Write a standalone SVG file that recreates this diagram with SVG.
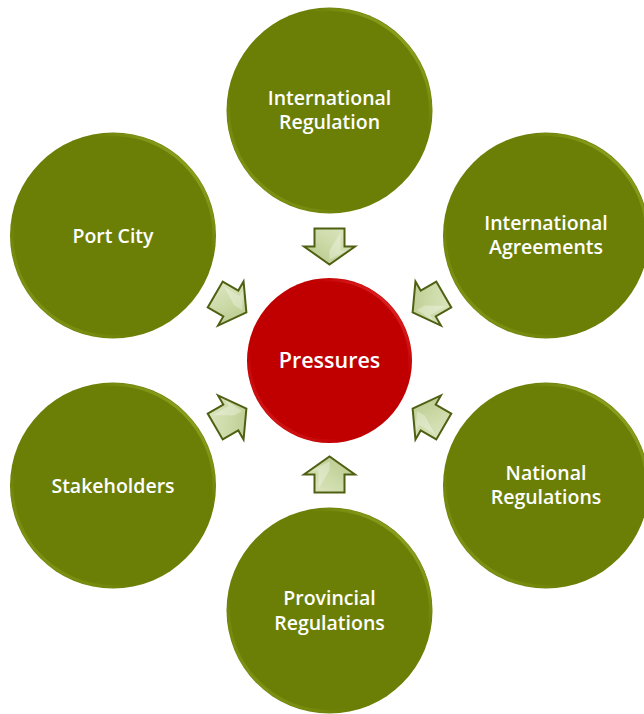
<svg xmlns="http://www.w3.org/2000/svg" xmlns:xlink="http://www.w3.org/1999/xlink" width="644" height="714" viewBox="0 0 644 714">
  <style>
    .olive { fill: #6b7f06; }
    .red { fill: #c00000; }
    .rim { fill: none; stroke-width: 3; }
    .label { font-family: "Open Sans", "Liberation Sans", sans-serif; font-weight: 600; font-size: 19.5px; fill: #ffffff; text-anchor: middle; }
    .big { font-size: 21.5px; }
    .arrow { fill: url(#arrowFill); stroke: #4f6012; stroke-width: 2; stroke-linejoin: miter; }
    .facet { fill: #ffffff; opacity: 0.3; }
  </style>
  <defs>
    <linearGradient id="rimOlive" x1="1" y1="0" x2="0" y2="1">
      <stop offset="0" stop-color="#b5cc3c" stop-opacity="0.75"/>
      <stop offset="0.3" stop-color="#b5cc3c" stop-opacity="0"/>
      <stop offset="0.7" stop-color="#b5cc3c" stop-opacity="0"/>
      <stop offset="1" stop-color="#b5cc3c" stop-opacity="0.45"/>
    </linearGradient>
    <linearGradient id="rimRed" x1="1" y1="0" x2="0" y2="1">
      <stop offset="0" stop-color="#ff4a4a" stop-opacity="0.75"/>
      <stop offset="0.3" stop-color="#ff4a4a" stop-opacity="0"/>
      <stop offset="0.7" stop-color="#ff4a4a" stop-opacity="0"/>
      <stop offset="1" stop-color="#ff4a4a" stop-opacity="0.45"/>
    </linearGradient>
    <linearGradient id="arrowFill" x1="0" y1="0" x2="1" y2="1">
      <stop offset="0" stop-color="#dfe8c4"/>
      <stop offset="0.5" stop-color="#cbd9a6"/>
      <stop offset="1" stop-color="#b3c585"/>
    </linearGradient>
    <!-- block arrow pointing along +x, centred on its length -->
    <g id="arrow">
      <path class="arrow" d="M-18,-15 L0,-15 L0,-25.5 L18,0 L0,25.5 L0,15 L-18,15 Z"/>
      <path class="facet" d="M-14,-11 L4,-11 L4,-18 L13,0 L4,0 Z"/>
    </g>
  </defs>

  <!-- connectors: arrows pointing toward the central node -->
  <g id="connectors">
    <use xlink:href="#arrow" transform="translate(329.5,246.5) rotate(90)"/>
    <use xlink:href="#arrow" transform="translate(428.2,303.5) rotate(150)"/>
    <use xlink:href="#arrow" transform="translate(428.2,417.5) rotate(210)"/>
    <use xlink:href="#arrow" transform="translate(329.5,474.5) rotate(270)"/>
    <use xlink:href="#arrow" transform="translate(230.8,417.5) rotate(330)"/>
    <use xlink:href="#arrow" transform="translate(230.8,303.5) rotate(30)"/>
  </g>

  <g id="pressures">
    <circle class="red" cx="329.5" cy="360.5" r="82.5"/>
    <circle class="rim" stroke="url(#rimRed)" cx="329.5" cy="360.5" r="80.5"/>
    <text class="label big" x="329.5" y="368">Pressures</text>
  </g>

  <g id="international-regulation">
    <circle class="olive" cx="329.5" cy="110.5" r="103"/>
    <circle class="rim" stroke="url(#rimOlive)" cx="329.5" cy="110.5" r="101"/>
    <text class="label" x="329.5" y="104.5">International</text>
    <text class="label" x="329.5" y="129">Regulation</text>
  </g>

  <g id="international-agreements">
    <circle class="olive" cx="546" cy="235.5" r="103"/>
    <circle class="rim" stroke="url(#rimOlive)" cx="546" cy="235.5" r="101"/>
    <text class="label" x="546" y="229.5">International</text>
    <text class="label" x="546" y="254">Agreements</text>
  </g>

  <g id="national-regulations">
    <circle class="olive" cx="546" cy="485.5" r="103"/>
    <circle class="rim" stroke="url(#rimOlive)" cx="546" cy="485.5" r="101"/>
    <text class="label" x="546" y="479.5">National</text>
    <text class="label" x="546" y="504">Regulations</text>
  </g>

  <g id="provincial-regulations">
    <circle class="olive" cx="329.5" cy="610.5" r="103"/>
    <circle class="rim" stroke="url(#rimOlive)" cx="329.5" cy="610.5" r="101"/>
    <text class="label" x="329.5" y="604.5">Provincial</text>
    <text class="label" x="329.5" y="629.5">Regulations</text>
  </g>

  <g id="stakeholders">
    <circle class="olive" cx="113" cy="485.5" r="103"/>
    <circle class="rim" stroke="url(#rimOlive)" cx="113" cy="485.5" r="101"/>
    <text class="label" x="113" y="493">Stakeholders</text>
  </g>

  <g id="port-city">
    <circle class="olive" cx="113" cy="235.5" r="103"/>
    <circle class="rim" stroke="url(#rimOlive)" cx="113" cy="235.5" r="101"/>
    <text class="label" x="113" y="243">Port City</text>
  </g>
</svg>
